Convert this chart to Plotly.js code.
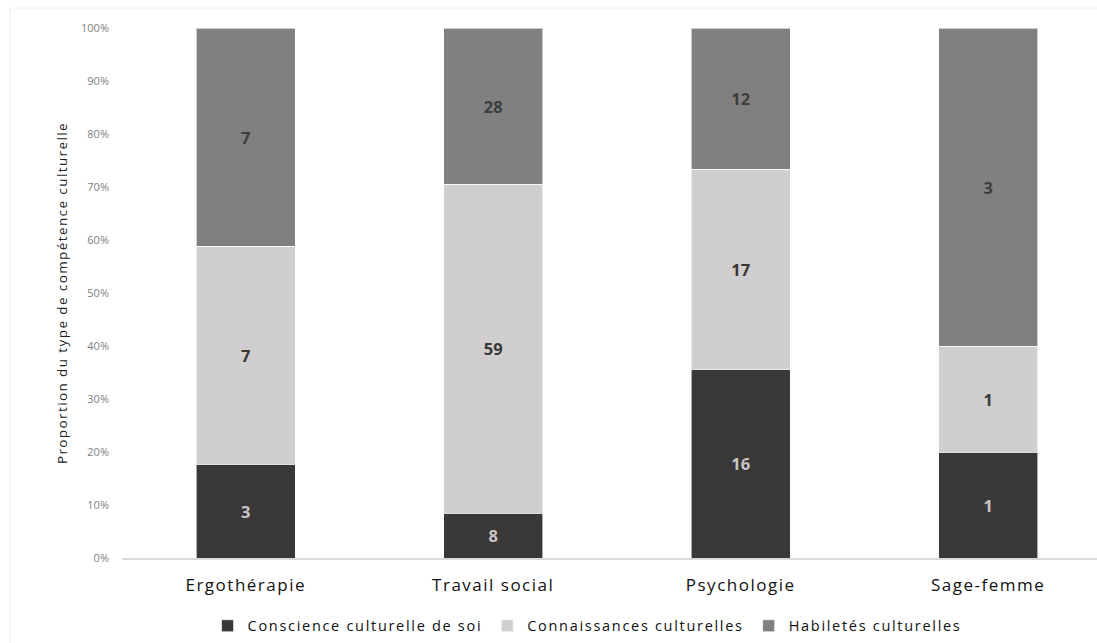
<!DOCTYPE html>
<html>
<head>
<meta charset="utf-8">
<script src="https://cdn.plot.ly/plotly-3.0.1.min.js"></script>
<style>
html,body{margin:0;padding:0;background:#fff;}
#chart{width:1097px;height:643px;}
.xtick text{letter-spacing:1.5px;}
.legendtext{letter-spacing:1.7px;}
.ytitle{letter-spacing:1.4px;}
</style>
</head>
<body>
<div id="chart"></div>
<script>
const categories = ["Ergothérapie", "Travail social", "Psychologie", "Sage-femme"];
const conscience = [3, 8, 16, 1];
const connaissances = [7, 59, 17, 1];
const habiletes = [7, 28, 12, 3];
const seriesNames = ["Conscience culturelle de soi", "Connaissances culturelles", "Habiletés culturelles"];
const yTicks = [0, 10, 20, 30, 40, 50, 60, 70, 80, 90, 100];

const colors = ["#3a3836", "#d0cecf", "#808080"];
const textColors = ["#c8c6c6", "#3a3836", "#3d3d3d"];
const seriesValues = [conscience, connaissances, habiletes];

const traces = seriesValues.map((vals, i) => ({
  type: "bar",
  name: seriesNames[i],
  x: categories,
  y: vals,
  text: vals.map(String),
  textposition: "inside",
  insidetextanchor: "middle",
  constraintext: "none",
  textfont: {family: "Open Sans, sans-serif", size: 16.5, color: textColors[i], weight: 700},
  marker: {color: colors[i], line: {color: "rgba(255,255,255,0.6)", width: 1}},
  width: 0.4,
  hoverinfo: "none"
}));

const layout = {
  width: 1097, height: 643,
  margin: {l: 122, r: 0, t: 28, b: 85},
  paper_bgcolor: "#fff", plot_bgcolor: "#fff",
  barmode: "stack",
  barnorm: "percent",
  showlegend: true,
  font: {family: "Open Sans, sans-serif", color: "#222"},
  xaxis: {
    range: [-0.5, 3.44],
    showgrid: false, zeroline: false,
    showline: true, linecolor: "#d9d9d9", linewidth: 1.5,
    ticks: "", ticklabelstandoff: 11,
    tickfont: {size: 17, color: "#111"}
  },
  yaxis: {
    range: [0, 100],
    tickvals: yTicks,
    ticktext: yTicks.map(v => v + "%"),
    showgrid: false, zeroline: false, showline: false,
    ticks: "", ticklabelstandoff: 12,
    tickfont: {size: 11, color: "#7f7f7f"},
    title: {text: "Proportion du type de compétence culturelle", font: {size: 13.5, color: "#222"}, standoff: 10}
  },
  legend: {
    orientation: "h", x: 0.477, xanchor: "center", y: -0.128, yanchor: "middle",
    font: {size: 14.5, color: "#111"}, itemwidth: 30, traceorder: "normal"
  },
  shapes: [
    {type: "line", xref: "paper", yref: "paper", x0: -0.1149, x1: -0.1149, y0: -0.3, y1: 1.0377, line: {color: "#f0f0f0", width: 1}},
    {type: "line", xref: "paper", yref: "paper", x0: -0.1149, x1: 1.05, y0: 1.0377, y1: 1.0377, line: {color: "#f0f0f0", width: 1}}
  ]
};

Plotly.newPlot("chart", traces, layout, {displayModeBar: false, staticPlot: true});
</script>
</body>
</html>
